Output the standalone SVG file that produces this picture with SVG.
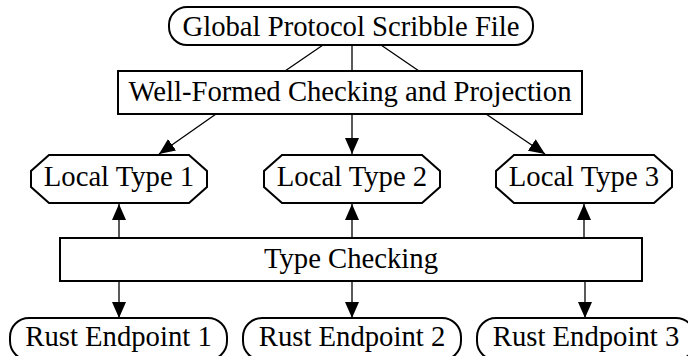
<svg xmlns="http://www.w3.org/2000/svg" width="688" height="356" viewBox="0 0 688 356">
<style>
.box{fill:#fff;stroke:#000;stroke-width:2}
.edge{fill:none;stroke:#000;stroke-width:1.3}
text{font-family:"Liberation Serif","Times New Roman",serif;font-size:28.7px;fill:#000;text-anchor:middle}
</style>
<defs>
<marker id="ah" viewBox="0 0 16 14" refX="16" refY="7" markerWidth="16" markerHeight="14" markerUnits="userSpaceOnUse" orient="auto">
<path d="M0,0 L16,7 L0,14 Z" fill="#000"/>
</marker>
</defs>
<rect width="688" height="356" fill="#fff"/>
<g id="connectors">
<line class="edge" x1="323" y1="45" x2="285" y2="71"/>
<line class="edge" x1="352" y1="45" x2="352" y2="71"/>
<line class="edge" x1="381" y1="45" x2="419" y2="71"/>
<line class="edge" x1="216" y1="114" x2="159" y2="154" marker-end="url(#ah)"/>
<line class="edge" x1="352" y1="114" x2="352" y2="154" marker-end="url(#ah)"/>
<line class="edge" x1="486" y1="114" x2="545" y2="154" marker-end="url(#ah)"/>
<line class="edge" x1="119" y1="238" x2="119" y2="204" marker-end="url(#ah)"/>
<line class="edge" x1="352" y1="238" x2="352" y2="204" marker-end="url(#ah)"/>
<line class="edge" x1="584" y1="238" x2="584" y2="204" marker-end="url(#ah)"/>
<line class="edge" x1="119" y1="281" x2="119" y2="318" marker-end="url(#ah)"/>
<line class="edge" x1="352" y1="281" x2="352" y2="318" marker-end="url(#ah)"/>
<line class="edge" x1="585" y1="281" x2="585" y2="318" marker-end="url(#ah)"/>
</g>
<g id="global">
<rect class="box" x="169" y="7" width="364" height="38" rx="18" ry="18"/>
<text x="351" y="36">Global Protocol Scribble File</text>
</g>
<g id="wellformed">
<rect class="box" x="118" y="71" width="464" height="43"/>
<text x="350" y="101">Well-Formed Checking and Projection</text>
</g>
<g id="local1">
<polygon class="box" points="49,155 189,155 207,171 207,187 189,203 49,203 31,187 31,171"/>
<text x="119" y="186">Local Type 1</text>
</g>
<g id="local2">
<polygon class="box" points="282,155 422,155 440,171 440,187 422,203 282,203 264,187 264,171"/>
<text x="352" y="186">Local Type 2</text>
</g>
<g id="local3">
<polygon class="box" points="514,155 654,155 672,171 672,187 654,203 514,203 496,187 496,171"/>
<text x="584" y="186">Local Type 3</text>
</g>
<g id="typecheck">
<rect class="box" x="60" y="238" width="582" height="43"/>
<text x="351" y="268">Type Checking</text>
</g>
<g id="rust1">
<rect class="box" x="10" y="318" width="217" height="42" rx="19" ry="19"/>
<text x="118.5" y="346">Rust Endpoint 1</text>
</g>
<g id="rust2">
<rect class="box" x="243" y="318" width="218" height="42" rx="19" ry="19"/>
<text x="352" y="346">Rust Endpoint 2</text>
</g>
<g id="rust3">
<rect class="box" x="477" y="318" width="218" height="42" rx="19" ry="19"/>
<text x="586" y="346">Rust Endpoint 3</text>
</g>
</svg>
